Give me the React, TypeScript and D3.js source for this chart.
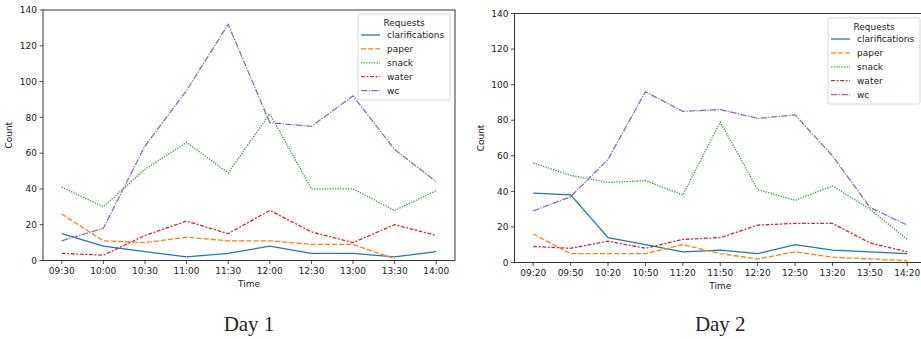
import * as d3 from "d3";

// Day 1
const day1Times = ["09:30", "10:00", "10:30", "11:00", "11:30", "12:00", "12:30", "13:00", "13:30", "14:00"];
const day1Clarifications = [15, 8, 5, 2, 4, 8, 4, 4, 2, 5];
const day1Paper = [26, 11, 10, 13, 11, 11, 9, 9, 1, null];
const day1Snack = [41, 30, 51, 66, 49, 82, 40, 40, 28, 39];
const day1Water = [4, 3, 14, 22, 15, 28, 16, 10, 20, 14];
const day1Wc = [11, 18, 64, 95, 132, 77, 75, 92, 62, 44];

// Day 2
const day2Times = ["09:20", "09:50", "10:20", "10:50", "11:20", "11:50", "12:20", "12:50", "13:20", "13:50", "14:20"];
const day2Clarifications = [39, 38, 14, 10, 6, 7, 5, 10, 7, 6, 5];
const day2Paper = [16, 5, 5, 5, 10, 5, 2, 6, 3, 2, 1];
const day2Snack = [56, 49, 45, 46, 38, 79, 41, 35, 43, 30, 13];
const day2Water = [9, 8, 12, 8, 13, 14, 21, 22, 22, 11, 6];
const day2Wc = [29, 37, 58, 96, 85, 86, 81, 83, 60, 31, 21];

const seriesNames = ["clarifications", "paper", "snack", "water", "wc"];
const yTicks = [0, 20, 40, 60, 80, 100, 120, 140];

const colors = ["#1f77b4", "#ff7f0e", "#2ca02c", "#d62728", "#9467bd"];
const lw = 1.3;
// seaborn default dash patterns, scaled by line width
const dashes = ["", "4,1.5", "1,1", "3,1.25,1.5,1.25", "5,1,1,1"].map((d) =>
  d ? d.split(",").map((v) => (+v * lw).toFixed(2)).join(",") : ""
);

const FONT = "DejaVu Sans, sans-serif";
const FS = 9;

type PanelProps = {
  times: string[];
  series: (number | null)[][];
  left: number;
  right: number;
  top: number;
  bottom: number;
  title: string;
  legendX: number;
  legendY: number;
};

function Panel({ times, series, left, right, top, bottom, title, legendX, legendY }: PanelProps) {
  const span = right - left;
  const pad = (span * 0.05) / 1.1;
  const x = d3.scalePoint<string>().domain(times).range([left + pad, right - pad]);
  const y = d3.scaleLinear().domain([0, 140]).range([bottom, top]);

  const line = d3
    .line<number | null>()
    .defined((d) => d != null)
    .x((_, i) => x(times[i]) as number)
    .y((d) => y(d as number));

  const legendRowH = 13.9;
  const legendW = 92;
  const legendH = 86;

  return (
    <g>
      {/* lines */}
      {series.map((s, i) => (
        <path
          key={i}
          d={line(s) || ""}
          fill="none"
          stroke={colors[i]}
          strokeWidth={lw}
          strokeDasharray={dashes[i] || undefined}
        />
      ))}

      {/* frame */}
      <rect x={left} y={top} width={right - left} height={bottom - top} fill="none" stroke="#222" strokeWidth={0.9} />

      {/* y axis */}
      {yTicks.map((t) => (
        <g key={t} transform={`translate(${left},${y(t)})`}>
          <line x1={-3.5} x2={0} stroke="#222" strokeWidth={0.8} />
          <text x={-6} dy="0.35em" textAnchor="end" fontSize={FS} fontFamily={FONT} fill="#222">
            {t}
          </text>
        </g>
      ))}
      <text
        transform={`translate(${left - 31},${(top + bottom) / 2}) rotate(-90)`}
        textAnchor="middle"
        fontSize={FS}
        fontFamily={FONT}
        fill="#222"
      >
        Count
      </text>

      {/* x axis */}
      {times.map((t) => (
        <g key={t} transform={`translate(${x(t)},${bottom})`}>
          <line y1={0} y2={3.5} stroke="#222" strokeWidth={0.8} />
          <text y={13} textAnchor="middle" fontSize={FS} fontFamily={FONT} fill="#222">
            {t}
          </text>
        </g>
      ))}
      <text x={(left + right) / 2} y={bottom + 26} textAnchor="middle" fontSize={FS} fontFamily={FONT} fill="#222">
        Time
      </text>

      {/* legend */}
      <g transform={`translate(${legendX},${legendY})`}>
        <rect width={legendW} height={legendH} rx={2} fill="white" fillOpacity={0.85} stroke="#cccccc" strokeWidth={0.8} />
        <text x={legendW / 2} y={11.5} textAnchor="middle" fontSize={FS} fontFamily={FONT} fill="#222">
          Requests
        </text>
        {seriesNames.map((n, i) => (
          <g key={n} transform={`translate(0,${21 + i * legendRowH})`}>
            <line x1={3} x2={22} stroke={colors[i]} strokeWidth={lw} strokeDasharray={dashes[i] || undefined} />
            <text x={29} dy="0.35em" fontSize={FS} fontFamily={FONT} fill="#222">
              {n}
            </text>
          </g>
        ))}
      </g>

      <text
        x={(left + right) / 2}
        y={331}
        textAnchor="middle"
        fontSize={21}
        fontFamily="Liberation Serif, Times New Roman, serif"
        fill="#222"
      >
        {title}
      </text>
    </g>
  );
}

export default function App() {
  return (
    <div style={{ position: "absolute", left: 0, top: 0 }}>
      <svg width={921} height={339} style={{ display: "block", background: "white" }}>
        <Panel
          times={day1Times}
          series={[day1Clarifications, day1Paper, day1Snack, day1Water, day1Wc]}
          left={43}
          right={455}
          top={10}
          bottom={260.5}
          title="Day 1"
          legendX={358}
          legendY={14}
        />
        <Panel
          times={day2Times}
          series={[day2Clarifications, day2Paper, day2Snack, day2Water, day2Wc]}
          left={514.5}
          right={926}
          top={13.5}
          bottom={262.5}
          title="Day 2"
          legendX={828}
          legendY={18}
        />
      </svg>
    </div>
  );
}
